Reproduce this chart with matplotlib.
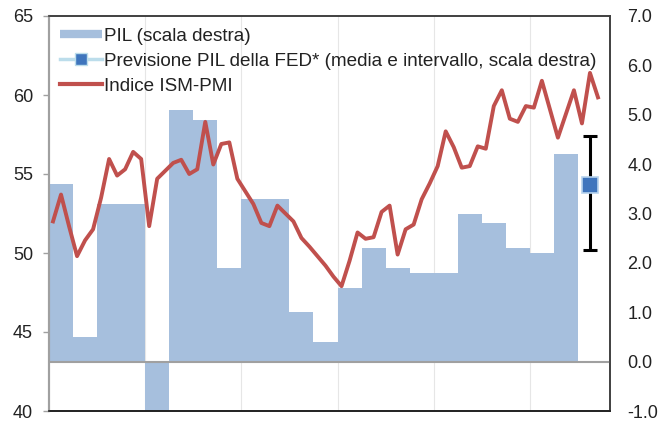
import numpy as np
import matplotlib
matplotlib.use("Agg")
import matplotlib.pyplot as plt
from matplotlib.lines import Line2D

plt.rcParams['font.family'] = ['Liberation Sans', 'DejaVu Sans']

# Quarterly GDP growth (right scale), 2013Q1 .. 2018Q2
gdp = [3.6, 0.5, 3.2, 3.2, -1.0, 5.1, 4.9, 1.9, 3.3, 3.3, 1.0, 0.4,
       1.5, 2.3, 1.9, 1.8, 1.8, 3.0, 2.8, 2.3, 2.2, 4.2]

# Monthly ISM-PMI (left scale), Jan 2013 .. Sep 2018
pmi = [52.0, 53.7, 51.7, 49.8, 50.8, 51.5, 53.5, 55.95, 54.9, 55.3, 56.4, 55.95,
       51.7, 54.7, 55.2, 55.7, 55.9, 55.0, 55.3, 58.3, 55.6, 56.9, 57.0, 54.7,
       53.9, 53.1, 51.9, 51.7, 53.0, 52.5, 52.0, 50.95, 50.4, 49.8, 49.2, 48.5,
       47.9, 49.5, 51.3, 50.9, 51.0, 52.6, 53.0, 49.9, 51.5, 51.8, 53.4, 54.4,
       55.5, 57.7, 56.7, 55.4, 55.5, 56.75, 56.6, 59.3, 60.3, 58.5, 58.3, 59.3,
       59.2, 60.9, 59.1, 57.3, 58.8, 60.3, 58.2, 61.4, 59.85]

# FED GDP forecast (right scale): mean and range
fed_mean = 3.57
fed_low = 2.26
fed_high = 4.57

left_ticks = [40, 45, 50, 55, 60, 65]
right_ticks = [-1.0, 0.0, 1.0, 2.0, 3.0, 4.0, 5.0, 6.0, 7.0]
year_lines = [12, 24, 36, 48, 60]

bar_color = '#A6BFDD'
red = '#C0504D'
fs = 13

fig = plt.figure(figsize=(6.63, 4.22), dpi=100)
ax2 = fig.add_axes([49/663, 1-411/422, (610-49)/663, (411-16)/422])
ax = ax2.twinx()
# PMI axis on the left, GDP axis on the right
ax2.yaxis.tick_right()
ax.yaxis.tick_left()
ax.set_zorder(ax2.get_zorder() + 1)
ax.patch.set_visible(False)

q = np.arange(len(gdp))
ax2.bar(3 * q + 1.5, gdp, width=3.0, color=bar_color, linewidth=0, zorder=2)
ax2.axhline(0, color='#A0A0A0', lw=1.5, zorder=3)
for yl in year_lines:
    ax2.axvline(yl, color='#E6E6E6', lw=0.8, zorder=1)

m = np.arange(len(pmi))
ax.plot(m + 0.5, pmi, color=red, lw=2.8, solid_joinstyle='round', zorder=4)

fx = len(pmi) - 1.5
ax2.errorbar([fx], [fed_mean], yerr=[[fed_mean - fed_low], [fed_high - fed_mean]],
             fmt='none', ecolor='black', elinewidth=2.2, capsize=5, capthick=2.2, zorder=5)
ax2.plot([fx], [fed_mean], marker='s', markersize=12, markerfacecolor='#3F75BD',
         markeredgecolor='#B7D3EE', markeredgewidth=1.2, linestyle='none', zorder=6)

ax.set_xlim(0, 70)
ax.set_ylim(40, 65)
ax2.set_ylim(-1, 7)
ax.set_yticks(left_ticks)
ax.set_yticklabels([str(t) for t in left_ticks], fontsize=fs, color='#222222')
ax2.set_yticks(right_ticks)
ax2.set_yticklabels([f"{t:.1f}" for t in right_ticks], fontsize=fs, color='#222222')
ax2.set_xticks([])
ax.set_xticks([])
ax.tick_params(axis='y', length=4, width=1, color='#A0A0A0', pad=7.5)
ax2.tick_params(axis='y', length=0, pad=12.5)

for a in (ax, ax2):
    a.spines['left'].set_color('#A0A0A0')
    a.spines['left'].set_linewidth(1.5)
    a.spines['right'].set_color('#404040')
    a.spines['right'].set_linewidth(1.2)
    a.spines['top'].set_color('#404040')
    a.spines['top'].set_linewidth(1.2)
    a.spines['bottom'].set_color('#202020')
    a.spines['bottom'].set_linewidth(1.2)

handles = [
    Line2D([], [], color=bar_color, lw=6, solid_capstyle='butt'),
    Line2D([], [], color='#BCDDEB', lw=2.5, marker='s', markersize=8,
           markerfacecolor='#3F75BD', markeredgecolor='#BCDDEB'),
    Line2D([], [], color=red, lw=3),
]
labels = ["PIL (scala destra)",
          "Previsione PIL della FED* (media e intervallo, scala destra)",
          "Indice ISM-PMI"]
leg = ax.legend(handles, labels, loc='upper left', bbox_to_anchor=(0.0, 1.0),
                frameon=False, fontsize=13.6, handlelength=2.2, handletextpad=0.1,
                borderaxespad=0.3, borderpad=0.3, labelspacing=0.42)
for t in leg.get_texts():
    t.set_color('#222222')

fig.savefig('out.png', dpi=100)
